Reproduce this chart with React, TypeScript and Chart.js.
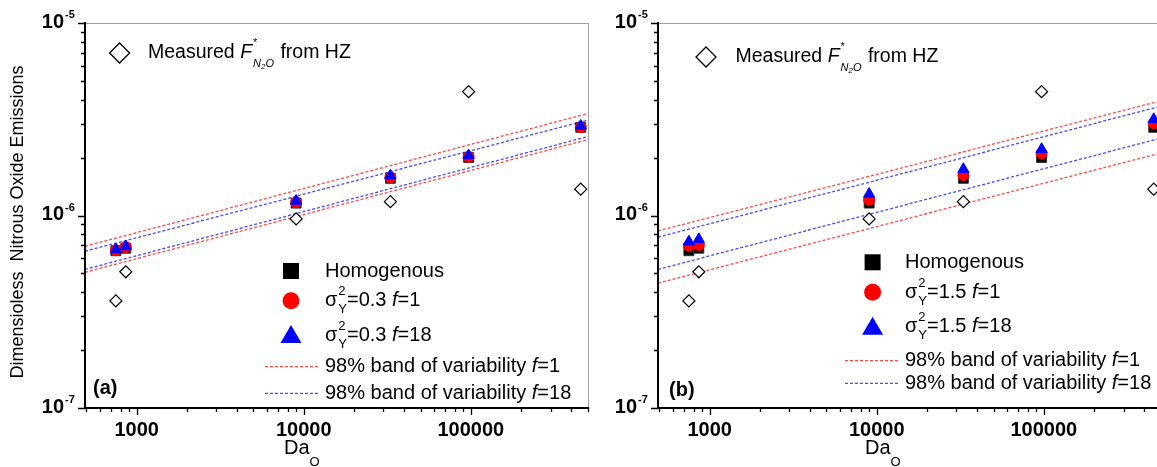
import React, { useEffect, useRef } from 'react';
import { Chart, registerables } from 'chart.js';

Chart.register(...registerables);

// ---------------- data ----------------
const daO = [750, 860, 9000, 33000, 97000, 455000];
const measuredHZ = [3.6e-7, 5.1e-7, 9.6e-7, 1.18e-6, 4.4e-6, 1.37e-6];
const homogenous = [6.56e-7, 6.76e-7, 1.16e-6, 1.56e-6, 2.0e-6, 2.87e-6];

const panelA_f1 = [6.6e-7, 6.85e-7, 1.17e-6, 1.58e-6, 2.02e-6, 2.88e-6];
const panelA_f18 = [6.65e-7, 6.9e-7, 1.19e-6, 1.61e-6, 2.05e-6, 2.92e-6];
const panelB_f1 = [6.95e-7, 7.03e-7, 1.205e-6, 1.62e-6, 2.1e-6, 3.01e-6];
const panelB_f18 = [7.31e-7, 7.52e-7, 1.294e-6, 1.74e-6, 2.21e-6, 3.16e-6];

const bandDaO = [490, 510000];
const panelA_band_f1_upper = [6.92e-7, 3.4e-6];
const panelA_band_f1_lower = [5.07e-7, 2.49e-6];
const panelA_band_f18_upper = [6.52e-7, 3.14e-6];
const panelA_band_f18_lower = [5.25e-7, 2.58e-6];
const panelB_band_f1_upper = [8.31e-7, 3.96e-6];
const panelB_band_f1_lower = [4.45e-7, 2.12e-6];
const panelB_band_f18_upper = [7.71e-7, 3.71e-6];
const panelB_band_f18_lower = [5.25e-7, 2.53e-6];

const xMajorTicks = [1000, 10000, 100000];
const xTickLabels = ['1000', '10000', '100000'];
const yMajorTicks = [1e-7, 1e-6, 1e-5];
const yTickExponents = ['-7', '-6', '-5'];

const X_MIN = 490;
const X_MAX = 510000;
const Y_MIN = 1e-7;
const Y_MAX = 1e-5;

const FONT = '"Liberation Sans", Arial, Helvetica, sans-serif';
const RED = 'rgba(255,40,40,0.85)';
const BLUE = 'rgba(40,40,255,0.85)';

type PanelCfg = {
  left: number;
  sigma: string;
  label: string;
  f1: number[];
  f18: number[];
  bands: { f1u: number[]; f1l: number[]; f18u: number[]; f18l: number[] };
  showYTitle: boolean;
  legendMarkerX: number;
  legendTextX: number;
  legendRows: number[];
  legendLine: [number, number];
  topDiamond: [number, number];
  topTextX: number;
  panelLabel: [number, number];
  daX: number;
};

const panels: PanelCfg[] = [
  {
    left: 0,
    sigma: '0.3',
    label: '(a)',
    f1: panelA_f1,
    f18: panelA_f18,
    bands: { f1u: panelA_band_f1_upper, f1l: panelA_band_f1_lower, f18u: panelA_band_f18_upper, f18l: panelA_band_f18_lower },
    showYTitle: true,
    legendMarkerX: 291,
    legendTextX: 325,
    legendRows: [271, 300.7, 335, 366.7, 393.3],
    legendLine: [265, 318],
    topDiamond: [119.6, 53],
    topTextX: 148,
    panelLabel: [93, 388],
    daX: 284,
  },
  {
    left: 573,
    sigma: '1.5',
    label: '(b)',
    f1: panelB_f1,
    f18: panelB_f18,
    bands: { f1u: panelB_band_f1_upper, f1l: panelB_band_f1_lower, f18u: panelB_band_f18_upper, f18l: panelB_band_f18_lower },
    showYTitle: false,
    legendMarkerX: 299.6,
    legendTextX: 332,
    legendRows: [262.3, 292.3, 326.7, 360.7, 383.3],
    legendLine: [272, 325],
    topDiamond: [133, 57],
    topTextX: 162.5,
    panelLabel: [96, 390],
    daX: 292,
  },
];

function font(size: number, bold = false, italic = false) {
  return `${italic ? 'italic ' : ''}${bold ? 'bold ' : ''}${size}px ${FONT}`;
}

function txt(ctx: CanvasRenderingContext2D, s: string, x: number, y: number, f: string) {
  ctx.font = f;
  ctx.fillText(s, x, y);
  return x + ctx.measureText(s).width;
}

function drawFrame(chart: any, cfg: PanelCfg) {
  const { ctx, chartArea: ca, scales } = chart;
  const xs = scales.x;
  const ys = scales.y;
  ctx.save();
  // gray box top/right
  ctx.strokeStyle = '#a0a0a0';
  ctx.lineWidth = 1;
  ctx.beginPath();
  ctx.moveTo(ca.left, ca.top + 0.5);
  ctx.lineTo(ca.right, ca.top + 0.5);
  ctx.moveTo(ca.right - 0.5, ca.top);
  ctx.lineTo(ca.right - 0.5, ca.bottom);
  ctx.stroke();

  // axes
  ctx.strokeStyle = '#000';
  ctx.lineWidth = 2;
  ctx.beginPath();
  ctx.moveTo(ca.left, ca.top - 1);
  ctx.lineTo(ca.left, ca.bottom);
  ctx.lineTo(ca.right, ca.bottom);
  ctx.stroke();

  // ticks
  ctx.lineWidth = 1.3;
  ctx.beginPath();
  for (let d = 100; d <= 1e6; d *= 10) {
    for (let m = 1; m <= 9; m++) {
      const v = m * d;
      if (v < X_MIN || v > X_MAX) continue;
      const px = Math.round(xs.getPixelForValue(v)) + 0.5;
      const len = m === 1 ? 7 : 4;
      ctx.moveTo(px, ca.bottom);
      ctx.lineTo(px, ca.bottom + len);
    }
  }
  for (let d = 1e-8; d <= 1e-5; d *= 10) {
    for (let m = 1; m <= 9; m++) {
      const v = m * d;
      if (v < Y_MIN * 0.999 || v > Y_MAX * 1.001) continue;
      const py = Math.round(ys.getPixelForValue(v)) + 0.5;
      const len = m === 1 ? 7 : 4;
      ctx.moveTo(ca.left, py);
      ctx.lineTo(ca.left - len, py);
    }
  }
  ctx.stroke();

  // tick labels
  ctx.fillStyle = '#000';
  ctx.textBaseline = 'middle';
  ctx.textAlign = 'center';
  xMajorTicks.forEach((v, i) => {
    ctx.font = font(20, true);
    ctx.fillText(xTickLabels[i], xs.getPixelForValue(v), ca.bottom + 22);
  });
  yMajorTicks.forEach((v, i) => {
    const py = ys.getPixelForValue(v);
    ctx.textAlign = 'right';
    ctx.font = font(20, true);
    ctx.fillText('10', ca.left - 21, py - 1);
    ctx.textAlign = 'left';
    ctx.font = font(11, true);
    ctx.fillText(yTickExponents[i], ca.left - 20, py - 8);
  });

  // axis titles
  ctx.textAlign = 'left';
  let x = txt(ctx, 'Da', cfg.daX, 448, font(20));
  txt(ctx, 'O', x, 462, font(13));
  if (cfg.showYTitle) {
    ctx.save();
    ctx.translate(18, 222);
    ctx.rotate(-Math.PI / 2);
    ctx.textAlign = 'center';
    ctx.font = font(18);
    ctx.fillText('Dimensioless  Nitrous Oxide Emissions', 0, 0);
    ctx.restore();
  }

  // panel label
  ctx.textAlign = 'left';
  txt(ctx, cfg.label, cfg.panelLabel[0], cfg.panelLabel[1], font(20, true));
  ctx.restore();
}

function diamond(ctx: CanvasRenderingContext2D, x: number, y: number, r: number) {
  ctx.beginPath();
  ctx.moveTo(x, y - r);
  ctx.lineTo(x + r, y);
  ctx.lineTo(x, y + r);
  ctx.lineTo(x - r, y);
  ctx.closePath();
  ctx.fillStyle = '#fff';
  ctx.fill();
  ctx.strokeStyle = '#000';
  ctx.lineWidth = 1.3;
  ctx.stroke();
}

function drawLegend(chart: any, cfg: PanelCfg) {
  const { ctx } = chart;
  ctx.save();
  ctx.textBaseline = 'middle';
  ctx.textAlign = 'left';
  ctx.fillStyle = '#000';

  // top legend: measured
  const [dx, dy] = cfg.topDiamond;
  diamond(ctx, dx, dy, 10);
  ctx.fillStyle = '#000';
  let x = txt(ctx, 'Measured ', cfg.topTextX, dy, font(19.5));
  x = txt(ctx, 'F', x, dy, font(19.5, false, true));
  txt(ctx, '*', x + 1, dy - 10, font(11));
  let sx = txt(ctx, 'N', x + 1, dy + 11, font(11, false, true));
  sx = txt(ctx, '2', sx, dy + 14, font(8, false, true));
  sx = txt(ctx, 'O', sx, dy + 11, font(11, false, true));
  txt(ctx, ' from HZ', sx + 1, dy, font(19.5));

  const mx = cfg.legendMarkerX;
  const rows = cfg.legendRows;
  const tx = cfg.legendTextX;

  // Homogenous: square
  ctx.fillStyle = '#000';
  ctx.fillRect(mx - 8, rows[0] - 8, 16, 16);
  txt(ctx, 'Homogenous', tx, rows[0], font(20));

  // circle
  ctx.fillStyle = '#ff0000';
  ctx.beginPath();
  ctx.arc(mx, rows[1], 8.5, 0, Math.PI * 2);
  ctx.fill();
  ctx.fillStyle = '#000';
  const sigmaRow = (y: number, f: string) => {
    let cx = txt(ctx, '\u03c3', tx, y, font(20));
    const a = txt(ctx, '2', cx + 1, y - 9, font(13));
    const b = txt(ctx, 'Y', cx + 1, y + 9, font(13));
    cx = Math.max(a, b);
    cx = txt(ctx, '=' + cfg.sigma + ' ', cx, y, font(20));
    cx = txt(ctx, 'f', cx, y, font(20, false, true));
    txt(ctx, '=' + f, cx, y, font(20));
  };
  sigmaRow(rows[1], '1');

  // triangle
  ctx.fillStyle = '#0000ff';
  ctx.beginPath();
  ctx.moveTo(mx, rows[2] - 10);
  ctx.lineTo(mx + 10.5, rows[2] + 8);
  ctx.lineTo(mx - 10.5, rows[2] + 8);
  ctx.closePath();
  ctx.fill();
  ctx.fillStyle = '#000';
  sigmaRow(rows[2], '18');

  // band lines
  const drawBand = (y: number, color: string, f: string) => {
    ctx.save();
    ctx.strokeStyle = color;
    ctx.lineWidth = 1.3;
    ctx.setLineDash([3, 2]);
    ctx.beginPath();
    ctx.moveTo(cfg.legendLine[0], y);
    ctx.lineTo(cfg.legendLine[1], y);
    ctx.stroke();
    ctx.restore();
    ctx.fillStyle = '#000';
    let cx = txt(ctx, '98% band of variability ', tx, y, font(20));
    cx = txt(ctx, 'f', cx, y, font(20, false, true));
    txt(ctx, '=' + f, cx, y, font(20));
  };
  drawBand(rows[3], RED, '1');
  drawBand(rows[4], BLUE, '18');
  ctx.restore();
}

function pts(xs: number[], ys: number[]) {
  return xs.map((x, i) => ({ x, y: ys[i] }));
}

function Panel({ cfg }: { cfg: PanelCfg }) {
  const ref = useRef<HTMLCanvasElement | null>(null);
  useEffect(() => {
    if (!ref.current) return;
    const band = (ys: number[], color: string) => ({
      data: pts(bandDaO, ys),
      showLine: true,
      borderColor: color,
      borderWidth: 1.3,
      borderDash: [3, 2],
      pointRadius: 0,
      fill: false,
    });
    const chart = new Chart(ref.current, {
      type: 'scatter',
      data: {
        datasets: [
          {
            data: pts(daO, cfg.f18),
            pointStyle: 'triangle',
            pointRadius: 6.5,
            backgroundColor: '#0000ff',
            borderColor: '#0000ff',
            borderWidth: 1,
          },
          {
            data: pts(daO, cfg.f1),
            pointStyle: 'circle',
            pointRadius: 5.5,
            backgroundColor: '#ff0000',
            borderColor: '#ff0000',
            borderWidth: 1,
          },
          {
            data: pts(daO, homogenous),
            pointStyle: 'rect',
            pointRadius: 7,
            backgroundColor: '#000',
            borderColor: '#333',
            borderWidth: 1,
          },
          {
            data: pts(daO, measuredHZ),
            pointStyle: 'rectRot',
            pointRadius: 6,
            backgroundColor: '#fff',
            borderColor: '#000',
            borderWidth: 1.2,
          },
          band(cfg.bands.f1u, RED),
          band(cfg.bands.f1l, RED),
          band(cfg.bands.f18u, BLUE),
          band(cfg.bands.f18l, BLUE),
        ] as any,
      },
      options: {
        animation: false,
        responsive: false,
        devicePixelRatio: 1,
        layout: { padding: { top: 23, right: 11, left: 0, bottom: 0 } },
        plugins: { legend: { display: false }, tooltip: { enabled: false } },
        scales: {
          x: {
            type: 'logarithmic',
            min: X_MIN,
            max: X_MAX,
            grid: { display: false },
            border: { display: false },
            ticks: { display: false },
            afterFit: (s: any) => {
              s.height = 59;
            },
          },
          y: {
            type: 'logarithmic',
            min: Y_MIN,
            max: Y_MAX,
            grid: { display: false },
            border: { display: false },
            ticks: { display: false },
            afterFit: (s: any) => {
              s.width = 85;
            },
          },
        },
      } as any,
      plugins: [
        {
          id: 'frameAndLegend',
          afterDraw(chart: any) {
            drawFrame(chart, cfg);
            drawLegend(chart, cfg);
          },
        },
      ],
    });
    return () => chart.destroy();
  }, [cfg]);
  return (
    <canvas
      ref={ref}
      width={600}
      height={467}
      style={{ position: 'absolute', left: cfg.left, top: 0, width: 600, height: 467 }}
    />
  );
}

export default function App() {
  return (
    <div
      style={{
        position: 'absolute',
        left: 0,
        top: 0,
        width: 1157,
        height: 467,
        overflow: 'hidden',
        background: '#fff',
      }}
    >
      {panels.map((p) => (
        <Panel key={p.label} cfg={p} />
      ))}
    </div>
  );
}
